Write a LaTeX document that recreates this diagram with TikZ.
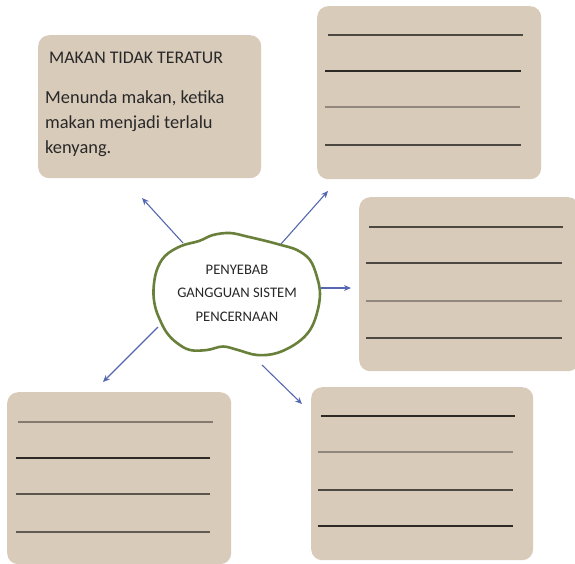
\documentclass[tikz,border=0pt]{standalone}
\usepackage{fontspec}
\setmainfont{Carlito}
\usetikzlibrary{arrows.meta}
\definecolor{boxfill}{RGB}{217,203,186}
\definecolor{cloudgreen}{RGB}{104,128,58}
\definecolor{arrowblue}{RGB}{86,104,178}
\definecolor{lnA}{RGB}{78,72,66}
\definecolor{lnB}{RGB}{45,42,38}
\definecolor{lnC}{RGB}{145,135,124}
\definecolor{txt}{RGB}{40,40,40}
\tikzset{
  box/.style={fill=boxfill, rounded corners=11pt, inner sep=0pt},
  wline/.style={line width=1.7pt},
  arr/.style={draw=arrowblue, line width=1.1pt, -{Stealth[length=7pt,width=6pt]}},
  cloudline/.style={draw=cloudgreen, line width=2.6pt, fill=white},
  title/.style={font=\fontsize{17.8}{20}\selectfont, text=txt, anchor=base west, inner sep=0pt},
  body/.style={font=\fontsize{18.4}{25}\selectfont, text=txt, anchor=base west, inner sep=0pt},
  center/.style={font=\fontsize{14.6}{23.5}\selectfont, text=txt, align=center, inner sep=0pt}
}
\begin{document}
\begin{tikzpicture}[x=1pt,y=-1pt]
\useasboundingbox (0,0) rectangle (575,563);
\fill[white] (0,0) rectangle (575,563);
% boxes
\node[box, minimum width=223pt, minimum height=143pt, anchor=north west] (b1) at (38,35) {};
\node[box, minimum width=224pt, minimum height=173pt, anchor=north west] (b2) at (317,6) {};
\node[box, minimum width=220pt, minimum height=174pt, anchor=north west] (b3) at (359,197) {};
\node[box, minimum width=224pt, minimum height=172pt, anchor=north west] (b4) at (7,392) {};
\node[box, minimum width=222pt, minimum height=173pt, anchor=north west] (b5) at (311,387) {};
% box 1 text
\node[title] (t1) at (49,63) {MAKAN TIDAK TERATUR};
\node[body] (l1) at (45,103) {Menunda makan, ketika};
\node[body] (l2) at (45,128) {makan menjadi terlalu};
\node[body] (l3) at (45,153) {kenyang.};
% box 2 lines
\draw[wline, lnA] (328,35) -- (523,35);
\draw[wline, lnB] (325,71) -- (521,71);
\draw[wline, lnC] (325,107) -- (520,107);
\draw[wline, lnA] (325,145) -- (521,145);
% box 3 lines
\draw[wline, lnA] (369,227) -- (563,227);
\draw[wline, lnA] (366,263) -- (562,263);
\draw[wline, lnC] (366,301) -- (562,301);
\draw[wline, lnA] (366,338) -- (562,338);
% box 4 lines
\draw[wline, lnC!80!lnA] (18,422) -- (213,422);
\draw[wline, lnB] (16,458) -- (210,458);
\draw[wline, lnA!80!lnC] (16,494) -- (210,494);
\draw[wline, lnA!70!lnC] (16,532) -- (210,532);
% box 5 lines
\draw[wline, lnB] (321,416) -- (515,416);
\draw[wline, lnC] (318,452) -- (513,452);
\draw[wline, lnA] (318,490) -- (513,490);
\draw[wline, lnB] (318,526) -- (513,526);
% cloud
\draw[cloudline] plot[smooth cycle, tension=0.6] coordinates {
 (153.5,290) (156.5,271) (165,256) (181,246) (199,241) (213,235) (230,233)
 (247,236.5) (266,241) (281,245) (297,250) (310,260) (317,277) (320,294)
 (317,313) (310,330) (297,343) (277,353) (257,355) (238,350) (223,346.5)
 (207,350) (190,350) (177,343) (167,333) (160,320) (155,306)};
\node[center] (c) at (237,293) {PENYEBAB\\GANGGUAN SISTEM\\PENCERNAAN};
% arrow endpoints
\coordinate (a1s) at (183,243); \coordinate (a1e) at (142,198);
\coordinate (a2s) at (281,244); \coordinate (a2e) at (328,191);
\coordinate (a3s) at (321,288); \coordinate (a3e) at (351,288);
\coordinate (a4s) at (158,327); \coordinate (a4e) at (103,382);
\coordinate (a5s) at (262,365); \coordinate (a5e) at (302,404);
\draw[arr] (a1s) -- (a1e);
\draw[arr] (a2s) -- (a2e);
\draw[arr] (a3s) -- (a3e);
\draw[arr] (a4s) -- (a4e);
\draw[arr] (a5s) -- (a5e);
\end{tikzpicture}
\end{document}
